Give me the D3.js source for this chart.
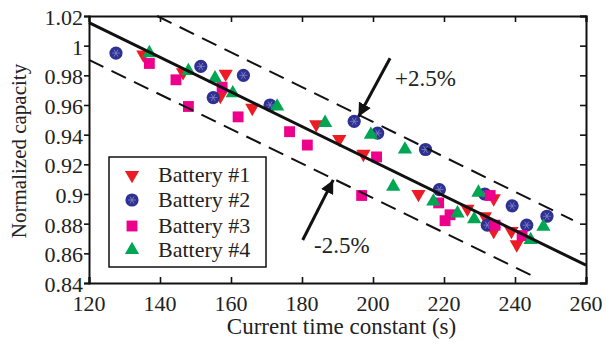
<!DOCTYPE html>
<html>
<head>
<meta charset="utf-8">
<script src="https://d3js.org/d3.v7.min.js"></script>
<style>
  body { margin: 0; background: #fff; }
  svg text { font-family: "Liberation Serif", "Times New Roman", Times, serif; fill: #222; }
</style>
</head>
<body>
<div id="chart"></div>
<script>
// battery data: [time constant (s), normalized capacity]
var battery1 = [[135.3,0.994],[146.5,0.982],[158.5,0.981],[157,0.966],[166,0.958],[184,0.947],
  [190.5,0.937],[197.3,0.927],[212.8,0.900],[226.6,0.890],[231.5,0.885],[234,0.897],[234,0.875],
  [239,0.875],[240.5,0.866]];
var battery2 = [[127.6,0.995],[151.5,0.986],[155,0.965],[163.5,0.980],[171,0.960],[194.7,0.949],
  [201.3,0.941],[214.8,0.930],[218.7,0.903],[231.5,0.900],[232.2,0.879],[239.2,0.892],
  [243.3,0.879],[249,0.885]];
var battery3 = [[137,0.988],[144.5,0.977],[148,0.959],[157.5,0.972],[162,0.952],[176.5,0.942],
  [181.5,0.933],[196.8,0.899],[201,0.925],[218.5,0.894],[220.3,0.882],[221.7,0.886],[233,0.899],
  [234.4,0.879],[242,0.872]];
var battery4 = [[137,0.995],[148,0.983],[155.5,0.978],[160.5,0.968],[173,0.959],[186.5,0.948],
  [199.4,0.940],[205.7,0.905],[209,0.930],[217,0.895],[223.8,0.887],[228.5,0.883],[229.7,0.901],
  [244.4,0.869],[248,0.878]];

var fitLine = [[120,1.0155],[260,0.852]];
var upperBand = [[139.2,1.02],[256.3,0.8824]];
var lowerBand = [[120,0.9904],[246.2,0.8434]];

var xTicks = [120,140,160,180,200,220,240,260];
var yTicks = [0.84,0.86,0.88,0.9,0.92,0.94,0.96,0.98,1,1.02];
var seriesNames = ["Battery #1","Battery #2","Battery #3","Battery #4"];

// arrows: [from, to] and labels
var arrowUp = [[204.8,0.9915],[195.9,0.9521]];
var arrowDown = [[180.2,0.869],[188.8,0.9095]];
var labelUp = {x: 206.2, y: 0.9728, text: "+2.5%"};
var labelDown = {x: 183.4, y: 0.8603, text: "-2.5%"};

var width = 607, height = 348;
var svg = d3.select("#chart").append("svg")
  .attr("width", width).attr("height", height);

var x = d3.scaleLinear().domain([120,260]).range([89,586]);
var y = d3.scaleLinear().domain([0.84,1.02]).range([283,16]);

var series = [
  {data: battery1, color: "#ed1c24", shape: "down"},
  {data: battery2, color: "#2e3192", shape: "circle"},
  {data: battery3, color: "#ec008c", shape: "square"},
  {data: battery4, color: "#00a651", shape: "up"}
];

function drawMarker(g, shape, color) {
  if (shape == "down") {
    g.append("path").attr("d", d3.symbol().type(d3.symbolTriangle).size(88)())
      .attr("transform", "rotate(180)").attr("fill", color);
  } else if (shape == "up") {
    g.append("path").attr("d", d3.symbol().type(d3.symbolTriangle).size(88)())
      .attr("fill", color);
  } else if (shape == "square") {
    g.append("path").attr("d", d3.symbol().type(d3.symbolSquare).size(118)())
      .attr("fill", color);
  } else {
    g.append("circle").attr("r", 6.6).attr("fill", color);
    // faint asterisk inside the circle
    [0,60,120].forEach(function(a) {
      g.append("line").attr("x1",-4).attr("x2",4).attr("y1",0).attr("y2",0)
        .attr("transform","rotate(" + a + ")")
        .attr("stroke","#7f82c4").attr("stroke-width",0.8);
    });
  }
}

var plot = svg.append("g");
series.forEach(function(s) {
  s.data.forEach(function(d) {
    var g = plot.append("g").attr("transform", "translate(" + x(d[0]) + "," + y(d[1]) + ")");
    drawMarker(g, s.shape, s.color);
  });
});

var line = d3.line().x(function(d){ return x(d[0]); }).y(function(d){ return y(d[1]); });

svg.append("path").attr("d", line(upperBand)).attr("fill","none")
  .attr("stroke","#111").attr("stroke-width",2).attr("stroke-dasharray","16,9");
svg.append("path").attr("d", line(lowerBand)).attr("fill","none")
  .attr("stroke","#111").attr("stroke-width",2).attr("stroke-dasharray","16,9");
svg.append("path").attr("d", line(fitLine)).attr("fill","none")
  .attr("stroke","#111").attr("stroke-width",3);

// axes, MATLAB style box
var xAxisB = d3.axisBottom(x).tickValues(xTicks).tickSize(-6).tickFormat("");
var xAxisT = d3.axisTop(x).tickValues(xTicks).tickSize(-6).tickFormat("");
var yAxisL = d3.axisLeft(y).tickValues(yTicks).tickSize(5).tickFormat("");
var yAxisR = d3.axisRight(y).tickValues(yTicks).tickSize(-6).tickFormat("");

svg.append("g").attr("class","axis").attr("transform","translate(0,283)").call(xAxisB);
svg.append("g").attr("class","axis").attr("transform","translate(0,16)").call(xAxisT);
svg.append("g").attr("class","axis").attr("transform","translate(89,0)").call(yAxisL);
svg.append("g").attr("class","axis").attr("transform","translate(586,0)").call(yAxisR);
svg.selectAll(".axis path").attr("stroke","#111").attr("stroke-width",2);
svg.selectAll(".axis line").attr("stroke","#111").attr("stroke-width",1.6);

svg.append("g").selectAll("text").data(xTicks).enter().append("text")
  .attr("x", function(d){ return x(d); }).attr("y", 311)
  .attr("text-anchor","middle").style("font-size","22px")
  .text(function(d){ return d; });

svg.append("g").selectAll("text").data(yTicks).enter().append("text")
  .attr("x", 83).attr("y", function(d){ return y(d) + 9; })
  .attr("text-anchor","end").style("font-size","22px")
  .text(function(d){ return d3.format("")(+d.toFixed(2)); });

svg.append("text").attr("x", (89+586)/2 + 4).attr("y", 334)
  .attr("text-anchor","middle").style("font-size","23px")
  .text("Current time constant (s)");

svg.append("text").attr("transform","translate(26,151) rotate(-90)")
  .attr("text-anchor","middle").style("font-size","21px")
  .text("Normalized capacity");

// arrows and labels
svg.append("defs").append("marker").attr("id","head")
  .attr("viewBox","0 0 10 10").attr("refX",10).attr("refY",5)
  .attr("markerWidth",4.5).attr("markerHeight",4.5).attr("orient","auto")
  .append("path").attr("d","M0,0L10,5L0,10z").attr("fill","#111");

[arrowUp, arrowDown].forEach(function(a) {
  svg.append("path").attr("d", line(a)).attr("stroke","#111").attr("stroke-width",3)
    .attr("fill","none").attr("marker-end","url(#head)");
});
[labelUp, labelDown].forEach(function(l) {
  svg.append("text").attr("x", x(l.x)).attr("y", y(l.y)).style("font-size","23px").text(l.text);
});

// legend
var legend = svg.append("g");
legend.append("rect").attr("x",109).attr("y",157).attr("width",157).attr("height",110)
  .attr("fill","#fff").attr("stroke","#111").attr("stroke-width",1.5);
var legY = [175,200,226,250];
series.forEach(function(s, i) {
  var g = legend.append("g").attr("transform","translate(132," + legY[i] + ")");
  drawMarker(g, s.shape, s.color);
  legend.append("text").attr("x",158).attr("y",legY[i] + 7).style("font-size","22px")
    .text(seriesNames[i]);
});
</script>
</body>
</html>
